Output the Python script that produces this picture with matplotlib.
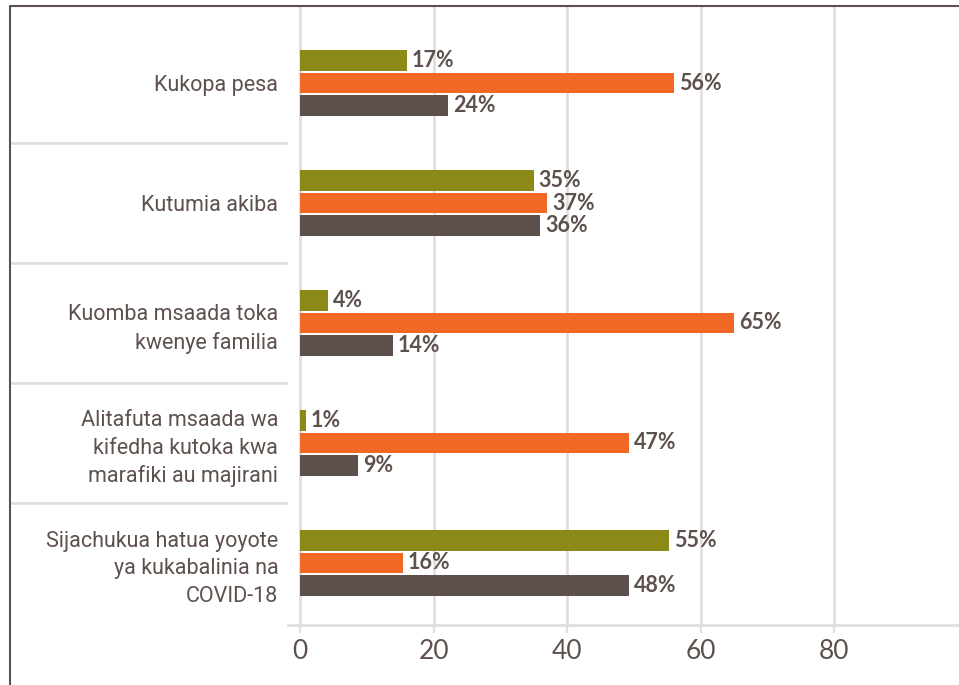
import matplotlib
matplotlib.use("Agg")
import matplotlib.pyplot as plt
from matplotlib.lines import Line2D
import matplotlib.transforms as mtransforms
import numpy as np

categories = [
    "Kukopa pesa",
    "Kutumia akiba",
    "Kuomba msaada toka\nkwenye familia",
    "Alitafuta msaada wa\nkifedha kutoka kwa\nmarafiki au majirani",
    "Sijachukua hatua yoyote\nya kukabalinia na\nCOVID-18",
]

# bar lengths as drawn, and the printed labels
olive_vals = [16.0, 35.0, 4.2, 0.85, 55.2]
orange_vals = [56.0, 37.0, 65.0, 49.2, 15.4]
dark_vals = [22.2, 36.0, 13.9, 8.7, 49.2]

olive_labels = ["17%", "35%", "4%", "1%", "55%"]
orange_labels = ["56%", "37%", "65%", "47%", "16%"]
dark_labels = ["24%", "36%", "14%", "9%", "48%"]

x_ticks = [0, 20, 40, 60, 80]

OLIVE = "#8C8A16"
ORANGE = "#F26925"
DARK = "#5E514D"
GRID = "#E2DEDD"
TEXT = "#5E514D"

W, H = 959, 685
fig = plt.figure(figsize=(W / 100, H / 100), dpi=100)
ax = fig.add_axes([288 / W, 1 - 625 / H, 1 - 288 / W, (625 - 6) / H])

y = np.arange(len(categories))
step = 0.1875
bh = 0.1725

series = [
    (olive_vals, olive_labels, OLIVE, -step),
    (orange_vals, orange_labels, ORANGE, 0.0),
    (dark_vals, dark_labels, DARK, step),
]

for vals, labels, color, off in series:
    bars = ax.barh(y + off, vals, height=bh, color=color, zorder=3)
    for bar, lab in zip(bars, labels):
        ax.annotate(
            lab,
            (bar.get_width(), bar.get_y() + bar.get_height() / 2),
            xytext=(5, 0),
            textcoords="offset pixels",
            va="center",
            ha="left",
            fontsize=15.5,
            fontweight="bold",
            family=["Lato", "DejaVu Sans"],
            color=TEXT,
            zorder=4,
        )

ax.set_xticks(x_ticks)
ax.set_xticklabels([str(t) for t in x_ticks], fontsize=19,
                   family=["Lato", "DejaVu Sans"], color=TEXT)
ax.tick_params(axis="x", length=5.8, width=1.5, color=GRID, pad=4)

ax.set_yticks(y)
ax.set_yticklabels(categories, fontsize=15.5,
                   family=["Liberation Sans Narrow", "Roboto", "DejaVu Sans"],
                   color=TEXT, multialignment="right", linespacing=1.4)
ax.tick_params(axis="y", length=0, pad=7)

ax.set_xlim(-12 / 6.68, (W - 300) / 6.68)
ax.set_ylim(4.517, -0.642)

ax.grid(axis="x", color=GRID, linewidth=2, zorder=0)
for s in ["top", "right", "left"]:
    ax.spines[s].set_visible(False)
ax.spines["bottom"].set_color(GRID)
ax.spines["bottom"].set_linewidth(2)

# category separators running out to the frame
trans = mtransforms.blended_transform_factory(fig.transFigure, ax.transData)
for sep in y[:-1] + 0.5:
    fig.add_artist(Line2D([10 / W, 1.0], [sep, sep], transform=trans,
                          color=GRID, linewidth=2, zorder=0))

# outer frame (left and top edges)
fig.add_artist(Line2D([9.5 / W, 9.5 / W, 1.0], [0.0, 1 - 6 / H, 1 - 6 / H],
                      transform=fig.transFigure, color=DARK, linewidth=1.5))

fig.savefig("out.png", dpi=100)
